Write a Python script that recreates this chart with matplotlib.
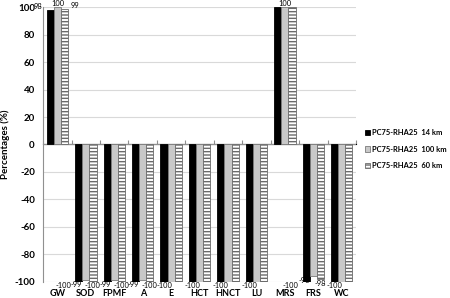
import matplotlib.pyplot as plt
import numpy as np

plt.rcParams['font.family'] = ['Lato', 'DejaVu Sans']

categories = ['GW', 'SOD', 'FPMF', 'A', 'E', 'HCT', 'HNCT', 'LU', 'MRS', 'FRS', 'WC']
series_names = ['PC75-RHA25  14 km', 'PC75-RHA25  100 km', 'PC75-RHA25  60 km']
km14 = [98, -100, -100, -100, -100, -100, -100, -100, 100, -100, -100]
km100 = [100, -99, -99, -99, -100, -100, -100, -100, 100, -96, -100]
km60 = [99, -100, -100, -100, -100, -100, -100, -100, 100, -98, -100]
# which value labels survive the overlap in the original
show14 = [1, 1, 0, 0, 1, 1, 1, 1, 0, 1, 1]
show100 = [1, 1, 1, 1, 0, 0, 0, 0, 1, 1, 0]
show60 = [1, 1, 1, 1, 0, 0, 0, 0, 0, 1, 0]
yticks = [-100, -80, -60, -40, -20, 0, 20, 40, 60, 80, 100]

fig = plt.figure(figsize=(4.5, 2.98), dpi=100)
ax = fig.add_axes([0.096, 0.0547, 0.695, 0.921])

x = np.arange(len(categories))
w = 0.25
styles = [
    dict(color='black', edgecolor='black'),
    dict(color='#c8c8c8', edgecolor='#7a7a7a'),
    dict(color='white', edgecolor='#6a6a6a', hatch='-----'),
]
all_vals = [km14, km100, km60]
all_show = [show14, show100, show60]
offsets = [-w, 0, w]
handles = []
for k, (vals, show, off, st, name) in enumerate(zip(all_vals, all_show, offsets, styles, series_names)):
    bars = ax.bar(x + off, vals, w, linewidth=0.6, label=name, zorder=3, **st)
    handles.append(bars)
    for i, (xi, v, s) in enumerate(zip(x + off, vals, show)):
        if not s:
            continue
        # rough imitation of the spreadsheet's label shuffling
        ha, ax_x, dx = 'center', xi, 0
        crowded = show100[i] and (show14[i] or show60[i])
        if k == 0 and crowded:
            ha, ax_x, dx = 'right', xi - w / 2, -3
        elif k == 1 and v < 0:
            ha, ax_x, dx = 'right', xi - w / 2, 0
        elif k == 2 and v > 0:
            ha, ax_x, dx = 'left', xi + w / 2, 2
        ax.annotate(str(v), (ax_x, v), xytext=(dx, 0 if v > 0 else -0.5),
                    textcoords='offset points', ha=ha,
                    va='bottom' if v > 0 else 'top', fontsize=5.4, zorder=4,
                    annotation_clip=False)

ax.set_xlim(-0.5, len(categories) - 0.5)
ax.set_ylim(-100, 100)
ax.set_yticks(yticks)
ax.set_yticklabels([str(t) for t in yticks], fontsize=7, fontweight='bold')
ax.tick_params(axis='y', length=0, pad=6)
ax.grid(axis='y', color='#d9d9d9', linewidth=0.8, zorder=0)
ax.axhline(0, color='#909090', linewidth=0.8, zorder=2)

ax.set_xticks(x)
ax.set_xticklabels(categories, fontsize=6.5, fontweight='bold')
ax.tick_params(axis='x', length=0, pad=5.5)

sec = ax.secondary_xaxis(0.5)
sec.set_xticks(np.arange(len(categories) + 1) - 0.5)
sec.set_xticklabels([])
sec.tick_params(axis='x', direction='out', length=3, color='#909090')
sec.spines['bottom'].set_visible(False)

for side in ['top', 'right', 'bottom']:
    ax.spines[side].set_visible(False)
ax.spines['left'].set_color('#909090')
ax.spines['left'].set_linewidth(0.8)

ax.set_ylabel('Percentages (%)', fontsize=7, fontweight='bold', labelpad=3)

leg = fig.legend(handles=handles, loc='center left', bbox_to_anchor=(0.81, 0.5),
                 frameon=False, handlelength=0.75, handleheight=0.75,
                 handletextpad=0.3, labelspacing=1.25, borderaxespad=0, borderpad=0,
                 prop={'weight': 'bold', 'size': 5.4})

fig.savefig('out.png', dpi=100)
